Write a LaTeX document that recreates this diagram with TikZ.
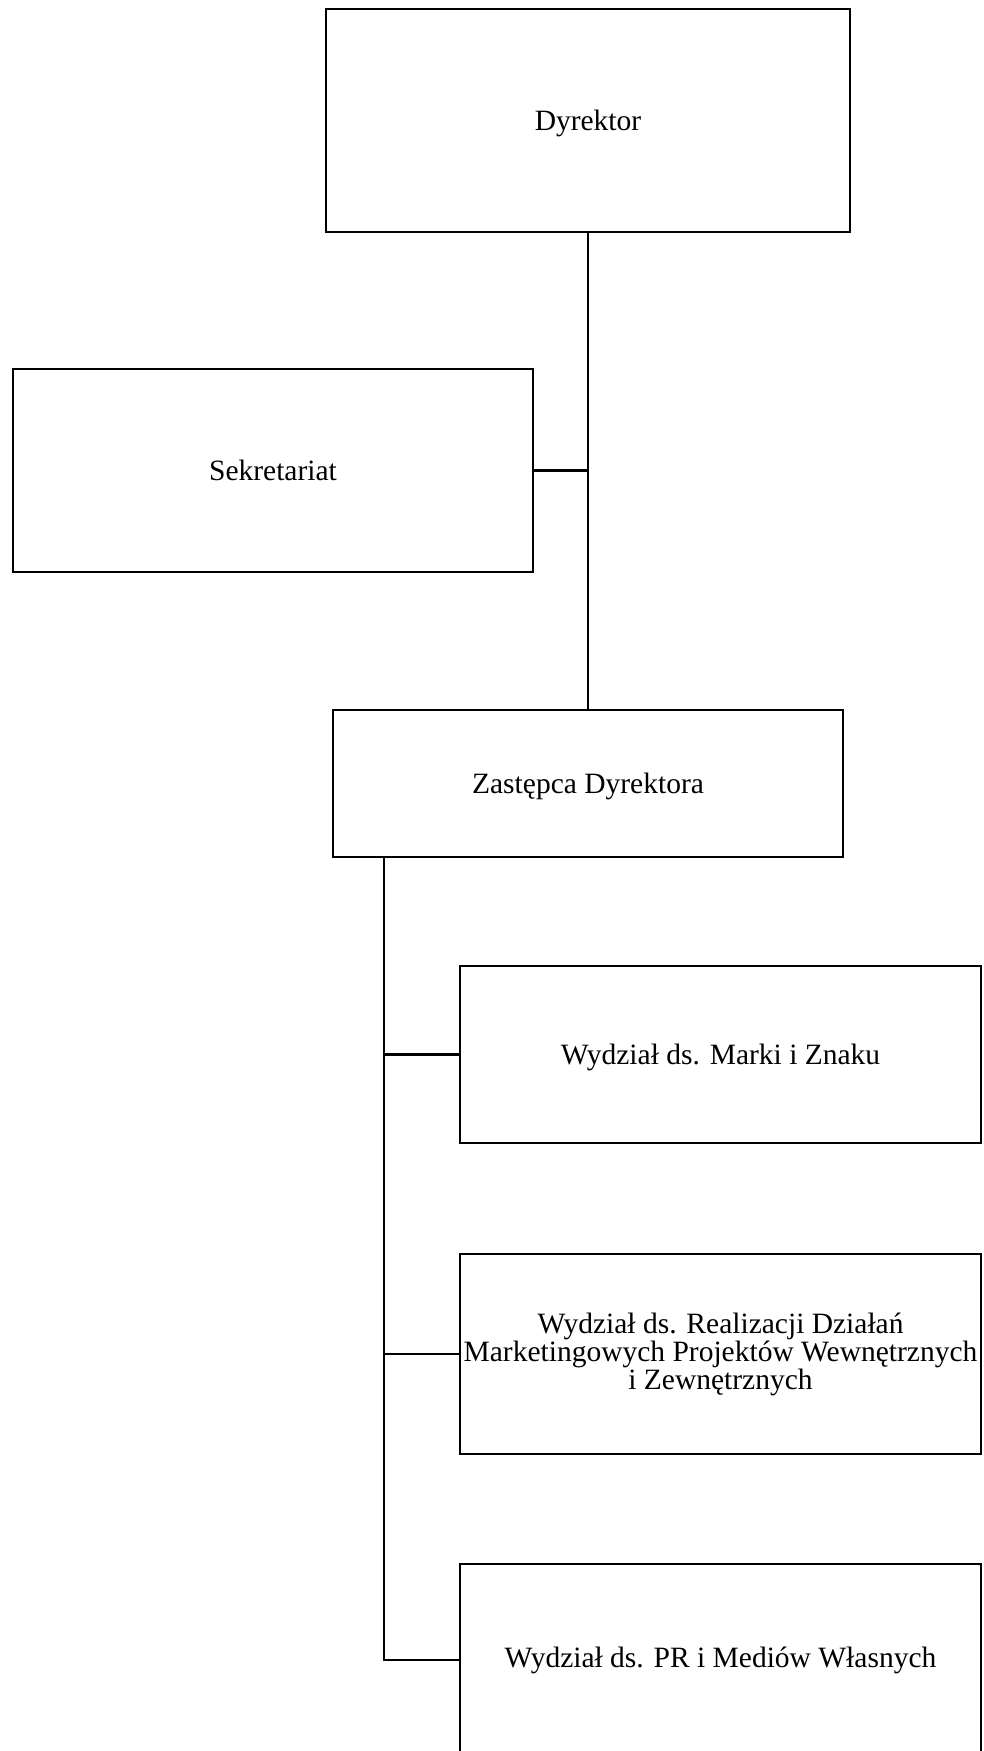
\documentclass[tikz,border=0pt]{standalone}
\usepackage{fontspec}
\setmainfont{Liberation Serif}
\usepackage{tikz}
\usetikzlibrary{positioning}
\tikzstyle{unit} = [rectangle, draw=black, line width=2.3pt, align=center, inner sep=0pt, font=\fontsize{29.5}{28}\selectfont]
\tikzstyle{link} = [-, draw=black, line width=2.3pt]

\begin{document}
\begin{tikzpicture}[x=1pt, y=-1pt]
\useasboundingbox (0,0) rectangle (984,1751);
\node [unit, text depth=0pt, minimum width=524, minimum height=223] (dyr) at (588,120.5) {Dyrektor};
\node [unit, text depth=0pt, minimum width=520, minimum height=203] (sek) at (273,470.5) {Sekretariat};
\node [unit, text depth=0pt, minimum width=510, minimum height=147] (zast) at (588,783.5) {Zastępca Dyrektora};
\node [unit, text depth=0pt, minimum width=521, minimum height=177] (marki) at (720.5,1054.5) {Wydział ds. Marki i Znaku};
\node [unit, minimum width=521, minimum height=200] (real) at (720.5,1354) {Wydział ds. Realizacji Działań\\Marketingowych Projektów Wewnętrznych\\i Zewnętrznych};
\node [unit, minimum width=521, minimum height=192] (pr) at (720.5,1660) {Wydział ds. PR i Mediów Własnych};
\coordinate (trunk) at (384,857);
% top branch
\draw [link] (dyr) to (zast);
\draw [link] (sek.east) to (sek.east -| dyr.south);
% departments under the deputy
\draw [link] (zast.south -| trunk) |- (pr.west);
\draw [link] (marki.west) to (marki.west -| trunk);
\draw [link] (real.west) to (real.west -| trunk);
\end{tikzpicture}
\end{document}
